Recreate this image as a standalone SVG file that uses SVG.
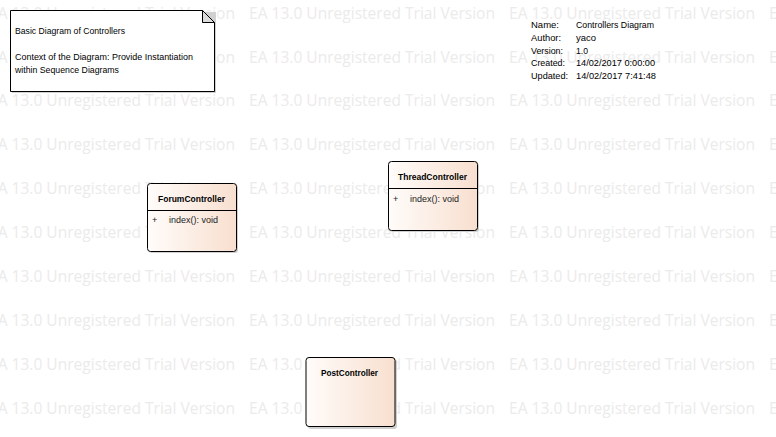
<svg xmlns="http://www.w3.org/2000/svg" width="776" height="437" viewBox="0 0 776 437">
<defs>
<linearGradient id="cls" x1="0" y1="0" x2="1" y2="0">
<stop offset="0" stop-color="#fffcfa"/>
<stop offset="1" stop-color="#f8dfcf"/>
</linearGradient>
<style>
.wm{font-family:"Open Sans","Liberation Sans",sans-serif;font-size:16.5px;fill:#ebebeb}
.t{font-family:"Liberation Sans","DejaVu Sans",sans-serif;font-size:9px;fill:#000}
.b{font-family:"Liberation Sans","DejaVu Sans",sans-serif;font-size:9px;font-weight:bold;fill:#000}
.a{font-family:"Liberation Sans","DejaVu Sans",sans-serif;font-size:9px;fill:#222}
.box{fill:url(#cls);stroke:#000;stroke-width:1}
.sh{fill:#d0d0d0}
</style>
</defs>
<rect width="776" height="437" fill="#fff"/>
<g id="watermark" transform="translate(0,-1.5)">
<g id="wm-r1"><text class="wm" x="-11" y="20" textLength="246" lengthAdjust="spacingAndGlyphs">EA 13.0 Unregistered Trial Version</text><text class="wm" x="249" y="20" textLength="246" lengthAdjust="spacingAndGlyphs">EA 13.0 Unregistered Trial Version</text><text class="wm" x="509" y="20" textLength="246" lengthAdjust="spacingAndGlyphs">EA 13.0 Unregistered Trial Version</text><text class="wm" x="769" y="20" textLength="246" lengthAdjust="spacingAndGlyphs">EA 13.0 Unregistered Trial Version</text></g>
<g id="wm-r2"><text class="wm" x="-11" y="64" textLength="246" lengthAdjust="spacingAndGlyphs">EA 13.0 Unregistered Trial Version</text><text class="wm" x="249" y="64" textLength="246" lengthAdjust="spacingAndGlyphs">EA 13.0 Unregistered Trial Version</text><text class="wm" x="509" y="64" textLength="246" lengthAdjust="spacingAndGlyphs">EA 13.0 Unregistered Trial Version</text><text class="wm" x="769" y="64" textLength="246" lengthAdjust="spacingAndGlyphs">EA 13.0 Unregistered Trial Version</text></g>
<g id="wm-r3"><text class="wm" x="-11" y="107" textLength="246" lengthAdjust="spacingAndGlyphs">EA 13.0 Unregistered Trial Version</text><text class="wm" x="249" y="107" textLength="246" lengthAdjust="spacingAndGlyphs">EA 13.0 Unregistered Trial Version</text><text class="wm" x="509" y="107" textLength="246" lengthAdjust="spacingAndGlyphs">EA 13.0 Unregistered Trial Version</text><text class="wm" x="769" y="107" textLength="246" lengthAdjust="spacingAndGlyphs">EA 13.0 Unregistered Trial Version</text></g>
<g id="wm-r4"><text class="wm" x="-11" y="151" textLength="246" lengthAdjust="spacingAndGlyphs">EA 13.0 Unregistered Trial Version</text><text class="wm" x="249" y="151" textLength="246" lengthAdjust="spacingAndGlyphs">EA 13.0 Unregistered Trial Version</text><text class="wm" x="509" y="151" textLength="246" lengthAdjust="spacingAndGlyphs">EA 13.0 Unregistered Trial Version</text><text class="wm" x="769" y="151" textLength="246" lengthAdjust="spacingAndGlyphs">EA 13.0 Unregistered Trial Version</text></g>
<g id="wm-r5"><text class="wm" x="-11" y="195" textLength="246" lengthAdjust="spacingAndGlyphs">EA 13.0 Unregistered Trial Version</text><text class="wm" x="249" y="195" textLength="246" lengthAdjust="spacingAndGlyphs">EA 13.0 Unregistered Trial Version</text><text class="wm" x="509" y="195" textLength="246" lengthAdjust="spacingAndGlyphs">EA 13.0 Unregistered Trial Version</text><text class="wm" x="769" y="195" textLength="246" lengthAdjust="spacingAndGlyphs">EA 13.0 Unregistered Trial Version</text></g>
<g id="wm-r6"><text class="wm" x="-11" y="239" textLength="246" lengthAdjust="spacingAndGlyphs">EA 13.0 Unregistered Trial Version</text><text class="wm" x="249" y="239" textLength="246" lengthAdjust="spacingAndGlyphs">EA 13.0 Unregistered Trial Version</text><text class="wm" x="509" y="239" textLength="246" lengthAdjust="spacingAndGlyphs">EA 13.0 Unregistered Trial Version</text><text class="wm" x="769" y="239" textLength="246" lengthAdjust="spacingAndGlyphs">EA 13.0 Unregistered Trial Version</text></g>
<g id="wm-r7"><text class="wm" x="-11" y="283" textLength="246" lengthAdjust="spacingAndGlyphs">EA 13.0 Unregistered Trial Version</text><text class="wm" x="249" y="283" textLength="246" lengthAdjust="spacingAndGlyphs">EA 13.0 Unregistered Trial Version</text><text class="wm" x="509" y="283" textLength="246" lengthAdjust="spacingAndGlyphs">EA 13.0 Unregistered Trial Version</text><text class="wm" x="769" y="283" textLength="246" lengthAdjust="spacingAndGlyphs">EA 13.0 Unregistered Trial Version</text></g>
<g id="wm-r8"><text class="wm" x="-11" y="327" textLength="246" lengthAdjust="spacingAndGlyphs">EA 13.0 Unregistered Trial Version</text><text class="wm" x="249" y="327" textLength="246" lengthAdjust="spacingAndGlyphs">EA 13.0 Unregistered Trial Version</text><text class="wm" x="509" y="327" textLength="246" lengthAdjust="spacingAndGlyphs">EA 13.0 Unregistered Trial Version</text><text class="wm" x="769" y="327" textLength="246" lengthAdjust="spacingAndGlyphs">EA 13.0 Unregistered Trial Version</text></g>
<g id="wm-r9"><text class="wm" x="-11" y="371" textLength="246" lengthAdjust="spacingAndGlyphs">EA 13.0 Unregistered Trial Version</text><text class="wm" x="249" y="371" textLength="246" lengthAdjust="spacingAndGlyphs">EA 13.0 Unregistered Trial Version</text><text class="wm" x="509" y="371" textLength="246" lengthAdjust="spacingAndGlyphs">EA 13.0 Unregistered Trial Version</text><text class="wm" x="769" y="371" textLength="246" lengthAdjust="spacingAndGlyphs">EA 13.0 Unregistered Trial Version</text></g>
<g id="wm-r10"><text class="wm" x="-11" y="415" textLength="246" lengthAdjust="spacingAndGlyphs">EA 13.0 Unregistered Trial Version</text><text class="wm" x="249" y="415" textLength="246" lengthAdjust="spacingAndGlyphs">EA 13.0 Unregistered Trial Version</text><text class="wm" x="509" y="415" textLength="246" lengthAdjust="spacingAndGlyphs">EA 13.0 Unregistered Trial Version</text><text class="wm" x="769" y="415" textLength="246" lengthAdjust="spacingAndGlyphs">EA 13.0 Unregistered Trial Version</text></g>
</g>
<g id="note">
<rect class="sh" x="12" y="12" width="204" height="81"/>
<polygon points="10.5,10.5 202.5,10.5 214.5,22.5 214.5,91.5 10.5,91.5" fill="#fff" stroke="#000"/>
<polygon points="202.5,10.5 202.5,22.5 214.5,22.5" fill="#dcdcdc" stroke="#000"/>
<text class="t" x="15" y="34" textLength="110" lengthAdjust="spacingAndGlyphs">Basic Diagram of Controllers</text>
<text class="t" x="15" y="60" textLength="178" lengthAdjust="spacingAndGlyphs">Context of the Diagram: Provide Instantiation</text>
<text class="t" x="15" y="73" textLength="104" lengthAdjust="spacingAndGlyphs">within Sequence Diagrams</text>
</g>
<g id="metadata">
<text class="t" x="531" y="28" textLength="28" lengthAdjust="spacingAndGlyphs">Name:</text>
<text class="t" x="576" y="28" textLength="78" lengthAdjust="spacingAndGlyphs">Controllers Diagram</text>
<text class="t" x="531" y="41" textLength="30" lengthAdjust="spacingAndGlyphs">Author:</text>
<text class="t" x="576" y="41" textLength="20" lengthAdjust="spacingAndGlyphs">yaco</text>
<text class="t" x="531" y="54" textLength="32" lengthAdjust="spacingAndGlyphs">Version:</text>
<text class="t" x="576" y="54" textLength="12" lengthAdjust="spacingAndGlyphs">1.0</text>
<text class="t" x="531" y="66" textLength="34" lengthAdjust="spacingAndGlyphs">Created:</text>
<text class="t" x="576" y="66" textLength="79" lengthAdjust="spacingAndGlyphs">14/02/2017 0:00:00</text>
<text class="t" x="531" y="79" textLength="37" lengthAdjust="spacingAndGlyphs">Updated:</text>
<text class="t" x="576" y="79" textLength="80" lengthAdjust="spacingAndGlyphs">14/02/2017 7:41:48</text>
</g>
<g id="connectors"></g>
<g id="ForumController">
<rect class="sh" x="149" y="185" width="89" height="68" rx="3"/>
<rect class="box" x="147.5" y="183.5" width="89" height="68" rx="3"/>
<line x1="147.5" y1="210.5" x2="236.5" y2="210.5" stroke="#000"/>
<text class="b" x="191.5" y="202" text-anchor="middle" textLength="67" lengthAdjust="spacingAndGlyphs">ForumController</text>
<text class="a" x="152" y="223">+</text>
<text class="a" x="169" y="223" textLength="49" lengthAdjust="spacingAndGlyphs">index(): void</text>
</g>
<g id="ThreadController">
<rect class="sh" x="390" y="163" width="89" height="69" rx="3"/>
<rect class="box" x="388.5" y="161.5" width="89" height="69" rx="3"/>
<line x1="388.5" y1="188.5" x2="477.5" y2="188.5" stroke="#000"/>
<text class="b" x="432.5" y="180" text-anchor="middle" textLength="69" lengthAdjust="spacingAndGlyphs">ThreadController</text>
<text class="a" x="393" y="202">+</text>
<text class="a" x="410" y="202" textLength="49" lengthAdjust="spacingAndGlyphs">index(): void</text>
</g>
<g id="PostController">
<rect class="sh" x="308" y="359" width="89" height="70" rx="3"/>
<rect class="box" x="306" y="357.5" width="89" height="69" rx="3"/>
<text class="b" x="349.5" y="376" text-anchor="middle" textLength="57" lengthAdjust="spacingAndGlyphs">PostController</text>
</g>
</svg>
